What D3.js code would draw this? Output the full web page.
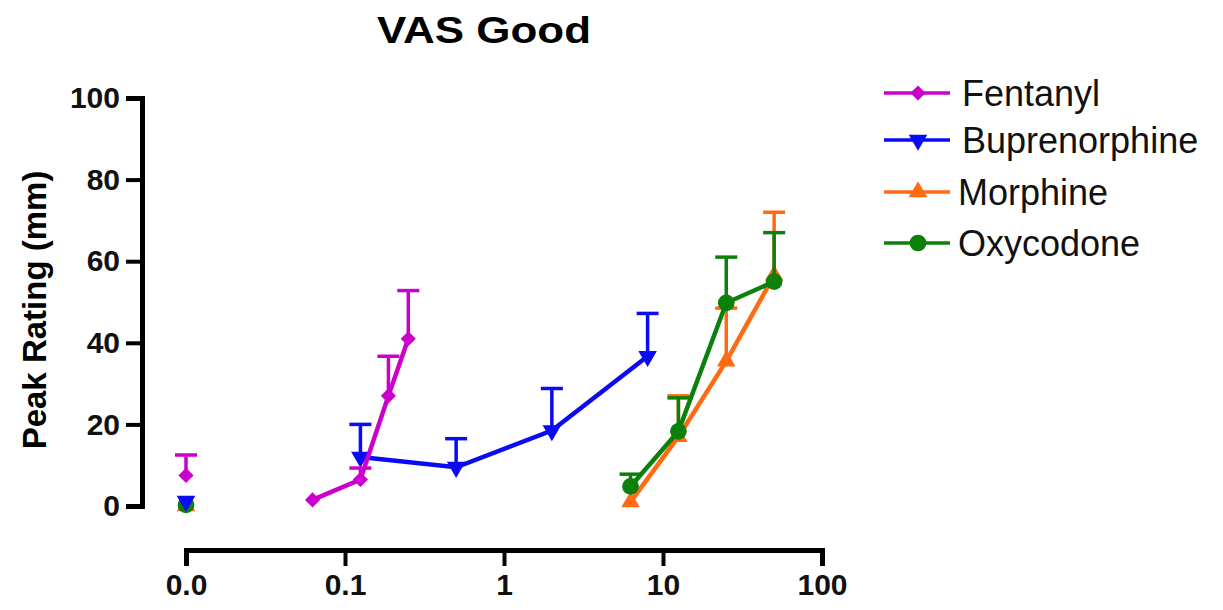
<!DOCTYPE html>
<html>
<head>
<meta charset="utf-8">
<script src="https://cdn.jsdelivr.net/npm/d3@7"></script>
<style>
  body { margin: 0; background: #fff; }
  text { font-family: Arial, "Liberation Sans", sans-serif; }
</style>
</head>
<body>
<div id="chart"></div>
<script>
// values (dose 0 = placebo, drawn at the "0.0" tick)
var drugs = ["Fentanyl", "Buprenorphine", "Morphine", "Oxycodone"];
var colors = ["#cc00cc", "#0a0af5", "#ff6a13", "#0b800b"];

var fentanylDose = [0, 0.0625, 0.125, 0.1875, 0.25];
var fentanylMean = [7.5, 1.5, 6.5, 27, 41];
var fentanylErr = [5, 0, 2.8, 9.7, 11.8];

var buprenorphineDose = [0, 0.125, 0.5, 2, 8];
var buprenorphineMean = [1.2, 12, 9.5, 18.5, 36.7];
var buprenorphineErr = [0, 8, 7, 10.3, 10.5];

var morphineDose = [0, 6.25, 12.5, 25, 50];
var morphineMean = [0, 1, 17, 35.5, 56.5];
var morphineErr = [0, 0, 10, 13, 15.5];

var oxycodoneDose = [0, 6.25, 12.5, 25, 50];
var oxycodoneMean = [0.3, 4.8, 18.3, 49.8, 55];
var oxycodoneErr = [0, 3, 8.2, 11.2, 12];

var xTicks = [0.01, 0.1, 1, 10, 100];
var xTickLabels = ["0.0", "0.1", "1", "10", "100"];
var yTicks = [0, 20, 40, 60, 80, 100];

var width = 1223, height = 610;

var svg = d3.select('#chart').append('svg')
  .attr('width', width)
  .attr('height', height);

var x = d3.scaleLog().domain([0.01, 100]).range([186, 822]);
var y = d3.scaleLinear().domain([0, 100]).range([506, 98]);

// placebo sits on the first tick
function xPos(d) { return d === 0 ? x(0.01) : x(d); }

var series = [
  {name: drugs[0], color: colors[0], dose: fentanylDose, mean: fentanylMean, err: fentanylErr,
    shape: d3.symbolSquare, size: 115, rot: 45},
  {name: drugs[1], color: colors[1], dose: buprenorphineDose, mean: buprenorphineMean, err: buprenorphineErr,
    shape: d3.symbolTriangle, size: 150, rot: 180},
  {name: drugs[2], color: colors[2], dose: morphineDose, mean: morphineMean, err: morphineErr,
    shape: d3.symbolTriangle, size: 150, rot: 0},
  {name: drugs[3], color: colors[3], dose: oxycodoneDose, mean: oxycodoneMean, err: oxycodoneErr,
    shape: d3.symbolCircle, size: 220, rot: 0}
];

series.forEach(function(s) {
  s.points = s.dose.map(function(d, i) { return {dose: d, mean: s.mean[i], err: s.err[i]}; });
});

// title
svg.append('text')
  .attr('x', 484).attr('y', 43)
  .attr('text-anchor', 'middle')
  .attr('font-size', 37).attr('font-weight', 'bold')
  .attr('textLength', 214).attr('lengthAdjust', 'spacingAndGlyphs')
  .text('VAS Good');

// y axis
var yAxis = svg.append('g')
  .attr('transform', 'translate(142,0)')
  .call(d3.axisLeft(y).tickValues(yTicks).tickSize(16).tickPadding(6));
yAxis.select('.domain').attr('stroke-width', 5).attr('stroke-linejoin', 'miter');
yAxis.selectAll('.tick line').attr('stroke-width', 4);
yAxis.selectAll('.tick text')
  .attr('font-size', 30).attr('font-weight', 'bold').attr('fill', '#111')
  .attr('font-family', 'Arial, "Liberation Sans", sans-serif');

svg.append('text')
  .attr('transform', 'translate(46,310) rotate(-90)')
  .attr('text-anchor', 'middle')
  .attr('font-size', 33).attr('font-weight', 'bold')
  .text('Peak Rating (mm)');

// x axis
var xAxis = svg.append('g')
  .attr('transform', 'translate(0,550)')
  .call(d3.axisBottom(x).tickValues(xTicks).tickSize(16).tickPadding(8)
    .tickFormat(function(d, i) { return xTickLabels[i]; }));
xAxis.select('.domain').attr('stroke-width', 5).attr('stroke-linejoin', 'miter');
xAxis.selectAll('.tick line').attr('stroke-width', 4);
xAxis.selectAll('.tick text')
  .attr('font-size', 30).attr('font-weight', 'bold').attr('fill', '#111')
  .attr('font-family', 'Arial, "Liberation Sans", sans-serif');

// data, drawn back to front
var order = [2, 3, 1, 0];
var line = d3.line()
  .x(function(d) { return xPos(d.dose); })
  .y(function(d) { return y(d.mean); });

order.forEach(function(k) {
  var s = series[k];
  var g = svg.append('g');

  // error bars (upper only)
  var eb = g.selectAll('.err').data(s.points.filter(function(p) { return p.err > 0; }))
    .enter().append('g');
  eb.append('line')
    .attr('x1', function(d) { return xPos(d.dose); })
    .attr('x2', function(d) { return xPos(d.dose); })
    .attr('y1', function(d) { return y(d.mean); })
    .attr('y2', function(d) { return y(d.mean + d.err); })
    .attr('stroke', s.color).attr('stroke-width', 3.5);
  eb.append('line')
    .attr('x1', function(d) { return xPos(d.dose) - 11; })
    .attr('x2', function(d) { return xPos(d.dose) + 11; })
    .attr('y1', function(d) { return y(d.mean + d.err); })
    .attr('y2', function(d) { return y(d.mean + d.err); })
    .attr('stroke', s.color).attr('stroke-width', 3.5);

  // connecting line skips placebo
  g.append('path')
    .datum(s.points.filter(function(p) { return p.dose > 0; }))
    .attr('d', line)
    .attr('fill', 'none')
    .attr('stroke', s.color)
    .attr('stroke-width', 4.5);

  g.selectAll('.pt').data(s.points)
    .enter().append('path')
    .attr('d', d3.symbol().type(s.shape).size(s.size))
    .attr('transform', function(d) {
      return 'translate(' + xPos(d.dose) + ',' + y(d.mean) + ') rotate(' + s.rot + ')';
    })
    .attr('fill', s.color);
});

// legend
var legendY = [93, 140, 192, 243];
var legendTextX = [962, 962, 958, 958];
var legend = svg.selectAll('.legend').data(series)
  .enter().append('g')
  .attr('transform', function(d, i) { return 'translate(0,' + legendY[i] + ')'; });
legend.append('line')
  .attr('x1', 884).attr('x2', 950)
  .attr('stroke', function(d) { return d.color; })
  .attr('stroke-width', 3.5);
legend.append('path')
  .attr('d', function(d) { return d3.symbol().type(d.shape).size(d.size)(); })
  .attr('transform', function(d) { return 'translate(918,0) rotate(' + d.rot + ')'; })
  .attr('fill', function(d) { return d.color; });
legend.append('text')
  .attr('x', function(d, i) { return legendTextX[i]; })
  .attr('y', 13)
  .attr('font-size', 36)
  .attr('fill', '#111')
  .text(function(d) { return d.name; });
</script>
</body>
</html>
